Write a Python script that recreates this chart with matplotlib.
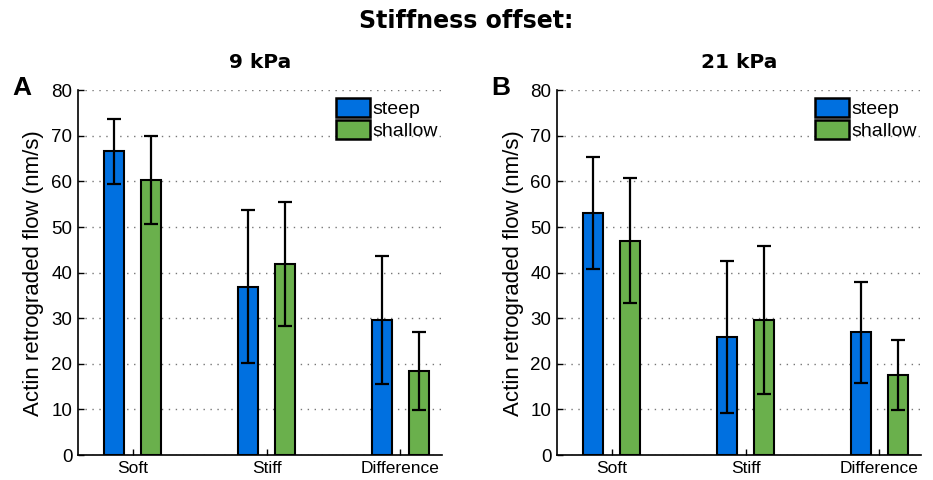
import numpy as np
import matplotlib.pyplot as plt

categories = ['Soft', 'Stiff', 'Difference']
panels = ['9 kPa', '21 kPa']
letters = ['A', 'B']

steep_9 = [66.6, 36.9, 29.6]
steep_9_err = [7.2, 16.8, 14.1]
shallow_9 = [60.3, 41.9, 18.4]
shallow_9_err = [9.7, 13.7, 8.6]

steep_21 = [53.0, 25.9, 26.9]
steep_21_err = [12.3, 16.7, 11.0]
shallow_21 = [47.0, 29.6, 17.5]
shallow_21_err = [13.7, 16.3, 7.7]

blue = '#0070e0'
green = '#6ab04c'
sans = ['Liberation Sans', 'DejaVu Sans']

fig = plt.figure(figsize=(9.33, 4.8), dpi=100)
fig.text(0.5, 0.957, 'Stiffness offset:', ha='center', va='center',
         fontsize=17, fontweight='bold', family='DejaVu Sans')

data = [(steep_9, steep_9_err, shallow_9, shallow_9_err),
        (steep_21, steep_21_err, shallow_21, shallow_21_err)]
lefts = [0.0836, 0.597]

x = np.arange(1, len(categories) + 1)
w = 0.15
off = 0.139
for i, (st, ste, sh, she) in enumerate(data):
    ax = fig.add_axes([lefts[i], 0.052, 0.39, 0.760])
    ax.bar(x - off, st, w, color=blue, edgecolor='black', linewidth=1.5,
           label='steep', zorder=3)
    ax.bar(x + off, sh, w, color=green, edgecolor='black', linewidth=1.5,
           label='shallow', zorder=3)
    ax.errorbar(x - off, st, yerr=ste, fmt='none', ecolor='black',
                elinewidth=1.6, capsize=5, capthick=1.6, zorder=4)
    ax.errorbar(x + off, sh, yerr=she, fmt='none', ecolor='black',
                elinewidth=1.6, capsize=5, capthick=1.6, zorder=4)
    ax.set_xlim(0.59, 3.31)
    ax.set_ylim(0, 80)
    ax.set_yticks(np.arange(0, 81, 10))
    ax.set_xticks(x)
    ax.set_xticklabels(categories, family=sans, fontsize=12.5)
    for lab in ax.get_yticklabels():
        lab.set_family(sans)
        lab.set_fontsize(13.5)
    ax.tick_params(direction='in', length=4, width=1, pad=4)
    ax.yaxis.grid(True, linestyle=(0, (1, 4)), color='#777777', linewidth=1)
    ax.set_axisbelow(True)
    for s in ['top', 'right']:
        ax.spines[s].set_visible(False)
    ax.spines['left'].set_linewidth(1.2)
    ax.spines['bottom'].set_linewidth(1.2)
    ax.set_ylabel('Actin retrograded flow (nm/s)', family=sans, fontsize=16,
                  labelpad=5)
    ax.set_title(panels[i], fontsize=14.5, fontweight='bold', pad=16,
                 family='DejaVu Sans')
    ax.text(-0.155, 1.005, letters[i], transform=ax.transAxes, fontsize=19,
            fontweight='bold', family=sans, ha='center', va='center')
    leg = ax.legend(loc='upper right', frameon=False, prop={'family': sans, 'size': 14},
                    handlelength=1.75, handleheight=1.1, handletextpad=0.1,
                    labelspacing=0.1, borderaxespad=0.0,
                    bbox_to_anchor=(1.01, 1.0))
    for h in leg.legend_handles:
        h.set_linewidth(1.8)

fig.savefig('out.png', dpi=100)
